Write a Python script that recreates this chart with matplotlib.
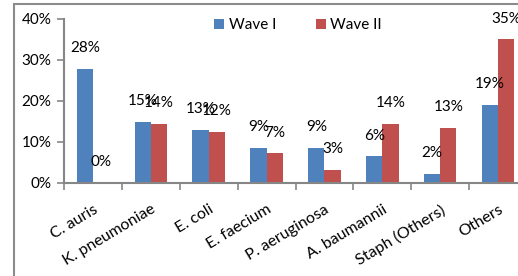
import matplotlib.pyplot as plt
import numpy as np
from matplotlib.patches import Rectangle

# data (percent)
categories = ['C. auris', 'K. pneumoniae', 'E. coli', 'E. faecium',
              'P. aeruginosa', 'A. baumannii', 'Staph (Others)', 'Others']
wave1 = [27.8, 15.0, 12.9, 8.6, 8.6, 6.5, 2.2, 19.1]
wave2 = [0.0, 14.5, 12.4, 7.2, 3.2, 14.4, 13.4, 35.0]
wave1_labels = ['28%', '15%', '13%', '9%', '9%', '6%', '2%', '19%']
wave2_labels = ['0%', '14%', '12%', '7%', '3%', '14%', '13%', '35%']
yticks = [0, 10, 20, 30, 40]

plt.rcParams['font.family'] = ['Lato', 'DejaVu Sans']
fs = 11

fig = plt.figure(figsize=(5.18, 2.76), dpi=100)
ax = fig.add_axes([64 / 518, 1 - 183 / 276, (527 - 64) / 518, (183 - 19) / 276])

# outer chart frame (cut off on right and bottom like the reference)
fig.patches.append(Rectangle((14 / 518, -0.1), 1.2, 1 - 4 / 276 + 0.1,
                             transform=fig.transFigure, fill=False,
                             edgecolor='#8c8c8c', linewidth=1.5))

x = np.arange(len(categories))
w = 0.28
blue = '#4F81BD'
red = '#C0504D'
b1 = ax.bar(x - w / 2, wave1, w, color=blue, label='Wave I')
b2 = ax.bar(x + w / 2, wave2, w, color=red, label='Wave II')

for bars, labs in ((b1, wave1_labels), (b2, wave2_labels)):
    for bar, lab in zip(bars, labs):
        ax.annotate(lab, (bar.get_x() + bar.get_width() / 2, bar.get_height()),
                    xytext=(0, 15), textcoords='offset points',
                    ha='center', va='center', fontsize=fs)

ax.set_xlim(-0.5, len(categories) - 0.5)
ax.set_ylim(0, 40)
ax.set_yticks(yticks)
ax.set_yticklabels([f'{t}%' for t in yticks], fontsize=fs)

ax.set_xticks(np.arange(len(categories) + 1) - 0.5)
ax.set_xticklabels([])
ax.set_xticks(x, minor=True)
ax.set_xticklabels(categories, minor=True, rotation=31, ha='right',
                   va='top', rotation_mode='anchor', fontsize=11.5)
ax.tick_params(axis='x', which='minor', length=0, pad=14)
ax.tick_params(axis='x', which='major', length=5, width=1.2, color='#868686')
ax.tick_params(axis='y', length=5, width=1.2, color='#868686', pad=4)

for s in ('top', 'right'):
    ax.spines[s].set_visible(False)
for s in ('left', 'bottom'):
    ax.spines[s].set_color('#868686')
    ax.spines[s].set_linewidth(1.5)

fig.legend(loc='center left', bbox_to_anchor=(214 / 518, 1 - 25 / 276),
           ncol=2, frameon=False, fontsize=fs, borderpad=0, borderaxespad=0,
           handlelength=0.65, handleheight=0.65, handletextpad=0.3,
           columnspacing=2.6)

fig.savefig('out.png', dpi=100)
